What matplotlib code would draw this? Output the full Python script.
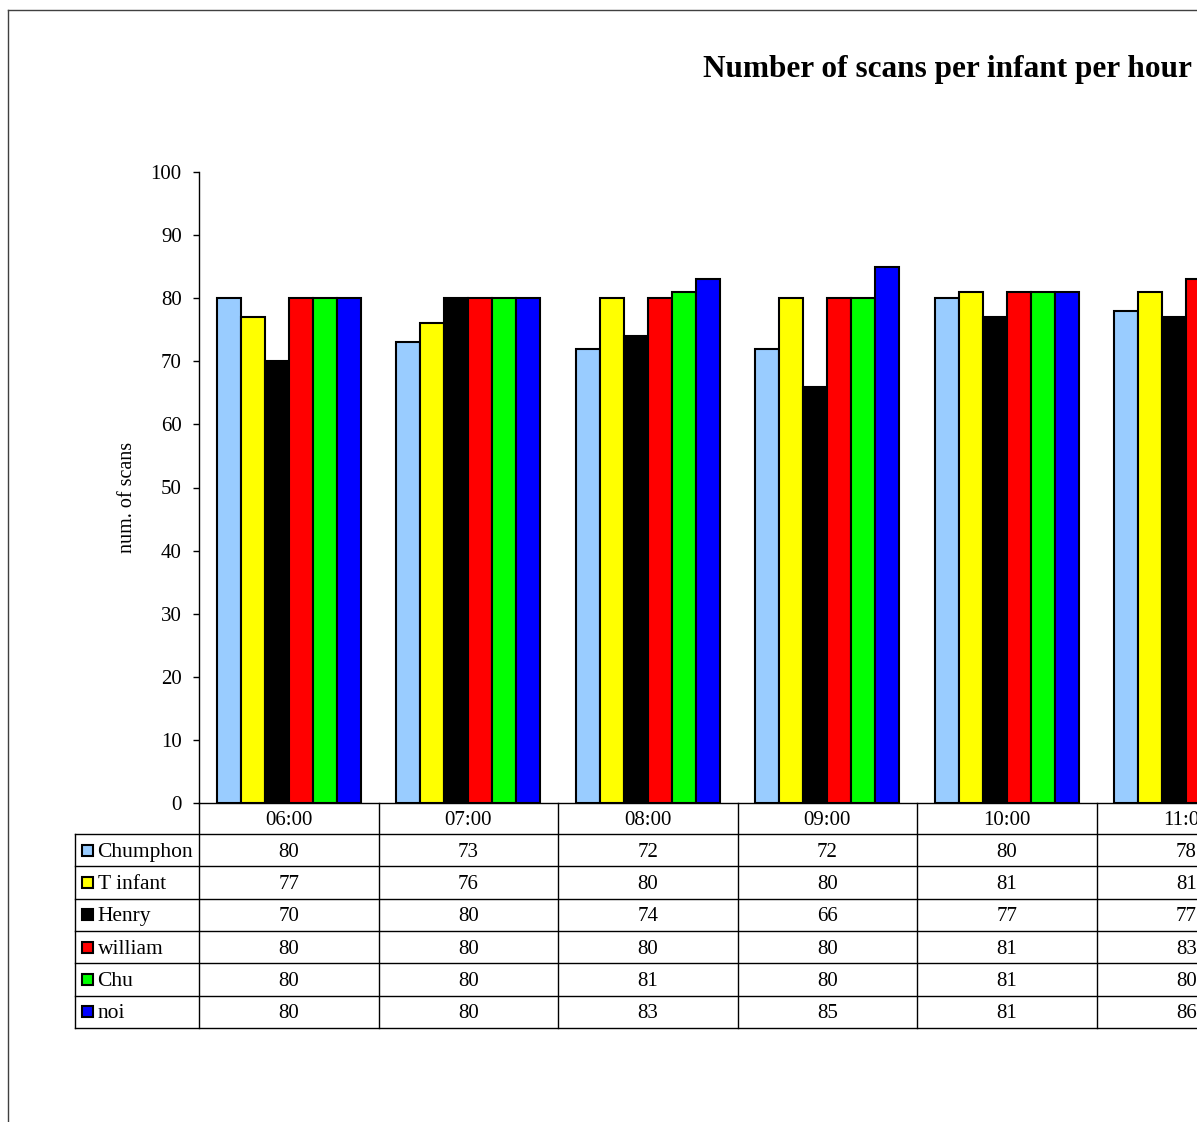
import matplotlib
matplotlib.use('Agg')
import matplotlib.pyplot as plt
import matplotlib.transforms as mtransforms
from matplotlib.patches import Rectangle
from matplotlib.lines import Line2D
import numpy as np

# donnees
hours = ['06:00', '07:00', '08:00', '09:00', '10:00', '11:00']
infants = ['Chumphon', 'T infant', 'Henry', 'william', 'Chu', 'noi']
colors = ['#99CCFF', '#FFFF00', '#000000', '#FF0000', '#00FF00', '#0000FF']

chumphon = [80, 73, 72, 72, 80, 78]
t_infant = [77, 76, 80, 80, 81, 81]
henry = [70, 80, 74, 66, 77, 77]
william = [80, 80, 80, 80, 81, 83]
chu = [80, 80, 81, 80, 81, 80]
noi = [80, 80, 83, 85, 81, 86]
series = [chumphon, t_infant, henry, william, chu, noi]

plt.rcParams['font.family'] = ['Liberation Serif', 'DejaVu Serif']

W, H = 1197, 1122
fig = plt.figure(figsize=(W / 100, H / 100), dpi=100)

def fx(px):
    return px / W

def fy(py):
    return 1 - py / H

# zone du graphique (elle depasse a droite, comme l'original)
cat_w = 179.5
ax = fig.add_axes([fx(199), fy(803), len(hours) * cat_w / W, (803 - 172) / H])

x = np.arange(len(hours))
bw = 0.1337
for i, (name, vals, c) in enumerate(zip(infants, series, colors)):
    ax.bar(x + (i - 2.5) * bw, vals, width=bw, color=c, edgecolor='black', linewidth=1.5, zorder=3)

ax.set_xlim(-0.5, len(hours) - 0.5)
ax.set_ylim(0, 100)
ax.set_yticks(range(0, 101, 10))
ax.tick_params(axis='y', labelsize=15, length=4.5, width=1, pad=8)
ax.set_xticks([])
for s in ['top', 'right']:
    ax.spines[s].set_visible(False)
ax.spines['left'].set_linewidth(1)
ax.spines['bottom'].set_linewidth(1)

fig.text(fx(127), fy(497), 'num. of scans', rotation=90, ha='center', va='center', fontsize=14.5)
fig.text(fx(947), fy(77), 'Number of scans per infant per hour', ha='center', va='baseline',
         fontsize=22.5, fontweight='bold')

# bordure du graphique
fig.add_artist(Line2D([fx(8), fx(8)], [fy(10), fy(H + 5)], color='#404040', lw=1, transform=fig.transFigure))
fig.add_artist(Line2D([fx(8), fx(W + 5)], [fy(10), fy(10)], color='#404040', lw=1, transform=fig.transFigure))

# tableau de donnees sous le graphique
trans = mtransforms.blended_transform_factory(ax.transData, fig.transFigure)
row_h = (1028 - 834) / 6
rows = [834 + k * row_h for k in range(7)]

for k in range(len(hours) + 1):
    xb = k - 0.5
    ax.add_line(Line2D([xb, xb], [fy(803), fy(1028)], color='black', lw=1, transform=trans, clip_on=False))
for r in rows:
    fig.add_artist(Line2D([fx(75), fx(W + 5)], [fy(r), fy(r)], color='black', lw=1, transform=fig.transFigure))
fig.add_artist(Line2D([fx(75), fx(75)], [fy(834), fy(1028)], color='black', lw=1, transform=fig.transFigure))

for j, h in enumerate(hours):
    ax.text(j, fy(820.5), h, ha='center', va='center', fontsize=15, transform=trans, clip_on=False)

for i, (name, vals, c) in enumerate(zip(infants, series, colors)):
    yc = (rows[i] + rows[i + 1]) / 2
    fig.add_artist(Rectangle((fx(82), fy(yc + 5.5)), 11 / W, 11 / H, facecolor=c, edgecolor='black',
                             lw=1.5, transform=fig.transFigure))
    fig.text(fx(97.5), fy(yc + 2), name, ha='left', va='center', fontsize=15.5)
    for j, v in enumerate(vals):
        ax.text(j, fy(yc + 2), str(v), ha='center', va='center', fontsize=15, transform=trans, clip_on=False)

fig.savefig('out.png', dpi=100)
